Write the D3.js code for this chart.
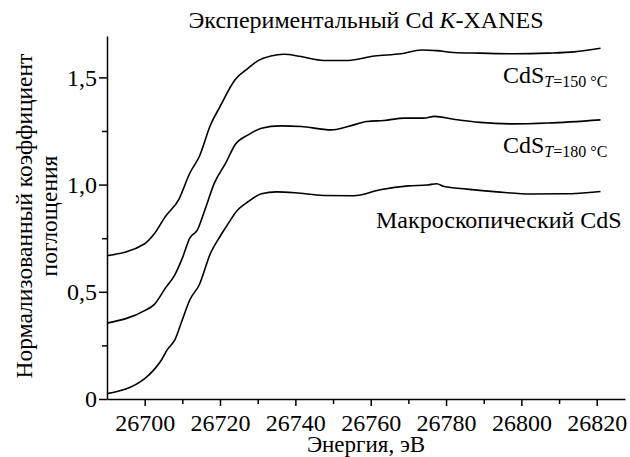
<!DOCTYPE html>
<html>
<head>
<meta charset="utf-8">
<script src="https://d3js.org/d3.v7.min.js"></script>
<style>
	body { margin: 0; background: #fff; }
	svg { display: block; }
	text { font-family: "Liberation Serif", "Times New Roman", serif; fill: #000; }
	.axis path, .axis line { stroke: #000; stroke-width: 1.5px; }
	.axis text { font-size: 24px; font-family: "Liberation Serif", "Times New Roman", serif; }
	.curve { fill: none; stroke: #000; stroke-width: 1.6px; }
</style>
</head>
<body>
<svg id="chart" width="630" height="457"></svg>
<script>
// Cd K-XANES, normalized absorption
var e150 = [26690, 26700, 26702.5, 26705.5, 26709, 26712, 26714.5, 26717.5, 26720, 26724, 26727.5, 26730,
	26733.5, 26737, 26741.5, 26747.5, 26754, 26761, 26768, 26773.5, 26777.5, 26782, 26789, 26798, 26807, 26814, 26821];
var mu150 = [0.668, 0.724, 0.769, 0.851, 0.929, 1.054, 1.131, 1.279, 1.364, 1.489, 1.543, 1.577,
	1.600, 1.608, 1.597, 1.579, 1.579, 1.600, 1.610, 1.628, 1.625, 1.616, 1.613, 1.610, 1.613, 1.619, 1.636];

var e180 = [26690, 26700, 26702.5, 26705.5, 26708, 26710, 26712, 26714, 26716, 26718.5, 26721.5, 26724,
	26727.5, 26731, 26736, 26741.5, 26749.5, 26754, 26759, 26763.5, 26769, 26774, 26777, 26782, 26789, 26798, 26807, 26821];
var mu180 = [0.354, 0.412, 0.440, 0.517, 0.579, 0.657, 0.751, 0.789, 0.883, 1.007, 1.100, 1.186,
	1.232, 1.263, 1.274, 1.271, 1.255, 1.271, 1.294, 1.299, 1.310, 1.310, 1.318, 1.305, 1.290, 1.283, 1.287, 1.302];

var eBulk = [26690, 26700, 26702.5, 26704.5, 26706, 26708, 26710, 26712, 26714.5, 26717.5, 26720, 26722,
	26724.5, 26727.5, 26731, 26735, 26740, 26747.5, 26755.5, 26762.5, 26770, 26775, 26777.5, 26779.5,
	26785.5, 26793.5, 26802.5, 26811.5, 26821];
var muBulk = [0.025, 0.095, 0.137, 0.183, 0.230, 0.276, 0.370, 0.463, 0.533, 0.681, 0.758, 0.813,
	0.878, 0.921, 0.957, 0.966, 0.962, 0.949, 0.948, 0.976, 0.994, 0.998, 1.004, 0.991,
	0.979, 0.966, 0.956, 0.957, 0.968];

var xTicks = [26700, 26720, 26740, 26760, 26780, 26800, 26820];
var xMinor = [26710, 26730, 26750, 26770, 26790, 26810];
var yTicks = [0, 0.5, 1.0, 1.5];
var yMinor = [0.25, 0.75, 1.25];

var xTitle = "Энергия, эВ";
var yTitle = ["Нормализованный коэффициент", "поглощения"];

var svg = d3.select("#chart");
var mLeft = 107, mRight = 625, mTop = 36, mBottom = 399;

var x = d3.scaleLinear().domain([26690, 26827.5]).range([mLeft, mRight]);
var y = d3.scaleLinear().domain([0, 1.693]).range([mBottom, mTop]);

function fmtY(d) { return d === 0 ? "0" : d3.format(".1f")(d).replace(".", ","); }

// minor ticks first, then main axes on top
svg.append("g").attr("class", "axis")
	.attr("transform", "translate(0," + mBottom + ")")
	.call(d3.axisBottom(x).tickValues(xMinor).tickSize(5).tickFormat(""))
	.select(".domain").remove();
svg.append("g").attr("class", "axis")
	.attr("transform", "translate(" + mLeft + ",0)")
	.call(d3.axisLeft(y).tickValues(yMinor).tickSize(5).tickFormat(""))
	.select(".domain").remove();

svg.append("g").attr("class", "axis")
	.attr("transform", "translate(0," + mBottom + ")")
	.call(d3.axisBottom(x).tickValues(xTicks).tickSize(7).tickSizeOuter(0).tickPadding(8).tickFormat(d3.format("d")));

svg.append("g").attr("class", "axis")
	.attr("transform", "translate(" + mLeft + ",0)")
	.call(d3.axisLeft(y).tickValues(yTicks).tickSize(8).tickSizeOuter(0).tickPadding(2).tickFormat(fmtY));

// curves
var line = d3.line()
	.x(function(d) { return x(d[0]); })
	.y(function(d) { return y(d[1]); })
	.curve(d3.curveMonotoneX);

[[e150, mu150], [e180, mu180], [eBulk, muBulk]].forEach(function(s) {
	svg.append("path")
		.attr("class", "curve")
		.attr("d", line(d3.zip(s[0], s[1])));
});

// titles
var t = svg.append("text")
	.attr("x", 366).attr("y", 28)
	.attr("text-anchor", "middle")
	.style("font-size", "24px");
t.append("tspan").text("Экспериментальный Cd ");
t.append("tspan").style("font-style", "italic").text("K");
t.append("tspan").text("-XANES");

svg.append("text")
	.attr("x", 366).attr("y", 452)
	.attr("text-anchor", "middle")
	.style("font-size", "23px")
	.text(xTitle);

svg.selectAll(".ytitle")
	.data(yTitle)
	.enter().append("text")
	.attr("class", "ytitle")
	.attr("text-anchor", "middle")
	.style("font-size", "23.5px")
	.attr("transform", function(d, i) { return "translate(" + (32 + i * 25) + ",216) rotate(-90)"; })
	.text(function(d) { return d; });

// curve labels
function cdsLabel(xp, yp, temp) {
	var lab = svg.append("text").attr("x", xp).attr("y", yp).style("font-size", "24px");
	lab.append("tspan").text("CdS");
	lab.append("tspan").attr("dy", 4).style("font-size", "16px").style("font-style", "italic").text("T");
	lab.append("tspan").style("font-size", "16px").text("=" + temp + " °C");
}
cdsLabel(503, 83, 150);
cdsLabel(503, 153, 180);

svg.append("text")
	.attr("x", 376).attr("y", 228)
	.style("font-size", "24px")
	.text("Макроскопический CdS");
</script>
</body>
</html>
